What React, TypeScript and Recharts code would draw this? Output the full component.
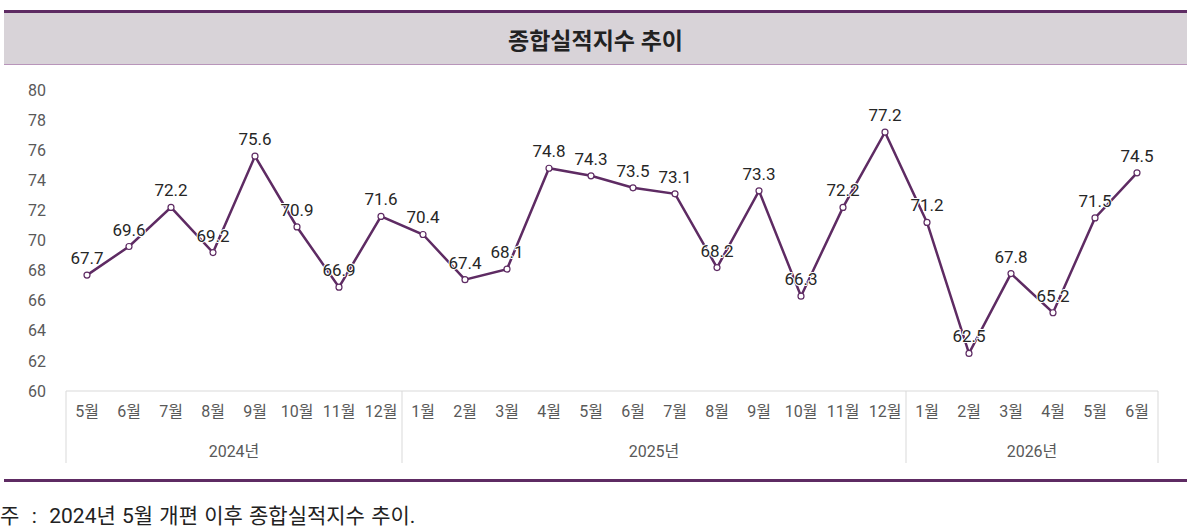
import { LineChart, Line, XAxis, YAxis, LabelList } from 'recharts';

const MONTHS = [
  '5월', '6월', '7월', '8월', '9월', '10월', '11월', '12월',
  '1월', '2월', '3월', '4월', '5월', '6월', '7월', '8월', '9월', '10월', '11월', '12월',
  '1월', '2월', '3월', '4월', '5월', '6월',
];
const YEAR_LABELS = ['2024년', '2025년', '2026년'];
const YEAR_SPANS = [8, 12, 6];
const VALUES = [
  67.7, 69.6, 72.2, 69.2, 75.6, 70.9, 66.9, 71.6,
  70.4, 67.4, 68.1, 74.8, 74.3, 73.5, 73.1, 68.2, 73.3, 66.3, 72.2, 77.2,
  71.2, 62.5, 67.8, 65.2, 71.5, 74.5,
];
const Y_TICKS = [60, 62, 64, 66, 68, 70, 72, 74, 76, 78, 80];

const data = MONTHS.map((m, i) => ({ key: i, month: m, value: VALUES[i] }));

const FONT = 'Roboto, "Noto Sans CJK KR", sans-serif';
const PURPLE = '#5e2b63';
const GRID = '#d9d9d9';
const CHART_W = 1199;
const MARGIN_LEFT = 66;
const MARGIN_RIGHT = 41;
const BAND = (CHART_W - MARGIN_LEFT - MARGIN_RIGHT) / MONTHS.length;

// first index of each year group
const GROUP_STARTS = YEAR_SPANS.map((_, g) => YEAR_SPANS.slice(0, g).reduce((a, b) => a + b, 0));

function MonthTick(props: any) {
  const { x, y, payload } = props;
  const i = payload.index;
  const g = GROUP_STARTS.indexOf(i);
  const left = x - BAND / 2;
  return (
    <g>
      <text x={x} y={y + 20} textAnchor="middle" dominantBaseline="central" fill="#595959" fontSize={16} fontFamily={FONT}>
        {MONTHS[i]}
      </text>
      {g >= 0 && (
        <>
          <line x1={left} x2={left} y1={y} y2={y + 72} stroke={GRID} strokeWidth={1} />
          <text x={left + (YEAR_SPANS[g] * BAND) / 2} y={y + 60} textAnchor="middle" dominantBaseline="central" fill="#595959" fontSize={16} fontFamily={FONT}>
            {YEAR_LABELS[g]}
          </text>
        </>
      )}
      {i === MONTHS.length - 1 && (
        <line x1={x + BAND / 2} x2={x + BAND / 2} y1={y} y2={y + 72} stroke={GRID} strokeWidth={1} />
      )}
    </g>
  );
}

export default function App() {
  return (
    <div style={{ position: 'relative', width: 1199, height: 530, background: '#fff', fontFamily: FONT }}>
      <style>{'body{margin:0}'}</style>
      <div
        style={{
          position: 'absolute', left: 4, top: 10, width: 1183, height: 51,
          borderTop: `3px solid ${PURPLE}`, borderBottom: '1px solid #b895ba',
          background: '#d8d3d8', display: 'flex', alignItems: 'center', justifyContent: 'center',
          fontSize: 23, fontWeight: 700, color: '#222',
        }}
      >
        종합실적지수 추이
      </div>
      <div style={{ position: 'absolute', left: 0, top: 0 }}>
        <LineChart width={CHART_W} height={470} data={data} margin={{ top: 90, right: MARGIN_RIGHT, bottom: 7, left: 0 }}>
          <XAxis
            dataKey="key"
            scale="band"
            height={72}
            interval={0}
            tickLine={false}
            tickSize={0}
            tickMargin={0}
            axisLine={{ stroke: GRID }}
            tick={(p: any) => <MonthTick {...p} />}
          />
          <YAxis
            width={MARGIN_LEFT}
            domain={[60, 80]}
            ticks={Y_TICKS}
            interval={0}
            axisLine={false}
            tickLine={false}
            tickSize={0}
            tickMargin={20}
            tick={{ fill: '#595959', fontSize: 16, fontFamily: FONT }}
          />
          <Line
            type="linear"
            dataKey="value"
            stroke={PURPLE}
            strokeWidth={2.5}
            dot={{ r: 3, fill: '#fff', stroke: PURPLE, strokeWidth: 1.2 }}
            isAnimationActive={false}
          >
            <LabelList
              dataKey="value"
              position="top"
              offset={11}
              fill="#262626"
              fontSize={17}
              fontFamily={FONT}
              formatter={(v: any) => Number(v).toFixed(1)}
              style={{ paintOrder: 'stroke', stroke: '#fff', strokeWidth: 2 }}
            />
          </Line>
        </LineChart>
      </div>
      <div style={{ position: 'absolute', left: 4, top: 479, width: 1183, height: 3, background: PURPLE }} />
      <div style={{ position: 'absolute', left: 0, top: 499, fontSize: 21, color: '#222', whiteSpace: 'nowrap', wordSpacing: 1 }}>
        주&nbsp;&nbsp;:&nbsp;&nbsp;2024년 5월 개편 이후 종합실적지수 추이.
      </div>
    </div>
  );
}
